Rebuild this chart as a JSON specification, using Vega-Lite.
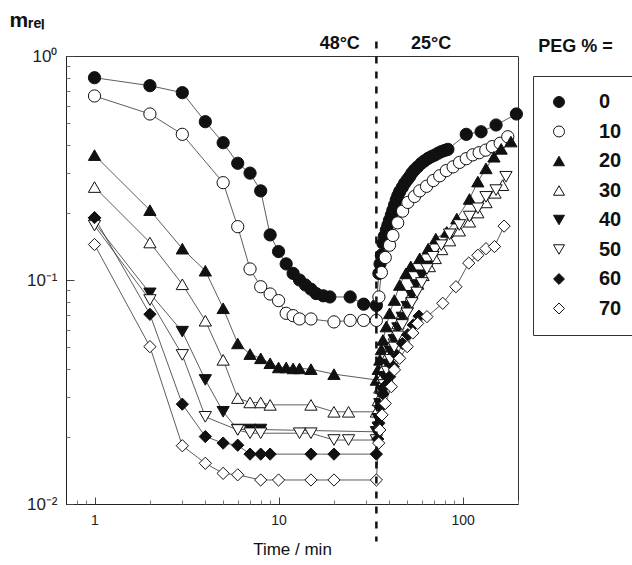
{
  "$schema": "https://vega.github.io/schema/vega-lite/v6.json",
  "autosize": {"type": "none"},
  "width": 452,
  "height": 448,
  "padding": {"left": 66, "top": 56, "right": 114, "bottom": 61},
  "background": "white",
  "config": {
    "font": "Liberation Sans",
    "view": {"stroke": "#333", "strokeWidth": 1},
    "legend": {
      "orient": "none",
      "legendX": 467,
      "legendY": 20,
      "strokeColor": "#333",
      "padding": 16,
      "labelFontSize": 20,
      "labelFontWeight": "bold",
      "labelColor": "#111",
      "labelOffset": 30,
      "rowPadding": 9.5,
      "symbolSize": 120,
      "symbolStrokeColor": "#111",
      "symbolStrokeWidth": 1
    }
  },
  "datasets": {
    "main": [
      {"peg":"0","t":1,"m":0.80},{"peg":"0","t":2,"m":0.737},{"peg":"0","t":3,"m":0.686},{"peg":"0","t":4,"m":0.509},{"peg":"0","t":5,"m":0.41},{"peg":"0","t":6,"m":0.332},{"peg":"0","t":7,"m":0.30},{"peg":"0","t":8,"m":0.25},{"peg":"0","t":9,"m":0.159},{"peg":"0","t":10,"m":0.134},{"peg":"0","t":11,"m":0.118},{"peg":"0","t":12,"m":0.107},{"peg":"0","t":13,"m":0.10},{"peg":"0","t":14,"m":0.095},{"peg":"0","t":15,"m":0.091},{"peg":"0","t":16,"m":0.087},{"peg":"0","t":17.5,"m":0.085},{"peg":"0","t":19,"m":0.084},{"peg":"0","t":24.5,"m":0.084},{"peg":"0","t":29,"m":0.078},{"peg":"0","t":34,"m":0.077},
      {"peg":"0","t":35.1,"m":0.107},{"peg":"0","t":35.6,"m":0.118},{"peg":"0","t":36.2,"m":0.129},{"peg":"0","t":36.9,"m":0.146},{"peg":"0","t":37.6,"m":0.157},{"peg":"0","t":38.5,"m":0.167},{"peg":"0","t":39.3,"m":0.176},{"peg":"0","t":40.1,"m":0.185},{"peg":"0","t":41,"m":0.195},{"peg":"0","t":41.8,"m":0.205},{"peg":"0","t":42.7,"m":0.216},{"peg":"0","t":43.6,"m":0.228},{"peg":"0","t":44.5,"m":0.238},{"peg":"0","t":45.5,"m":0.248},{"peg":"0","t":47,"m":0.259},{"peg":"0","t":48.4,"m":0.27},{"peg":"0","t":50,"m":0.28},{"peg":"0","t":51.5,"m":0.289},{"peg":"0","t":53,"m":0.30},{"peg":"0","t":54.8,"m":0.31},{"peg":"0","t":57,"m":0.32},{"peg":"0","t":59.7,"m":0.332},{"peg":"0","t":62,"m":0.34},{"peg":"0","t":64.9,"m":0.349},{"peg":"0","t":67.5,"m":0.355},{"peg":"0","t":70.5,"m":0.361},{"peg":"0","t":73.5,"m":0.368},{"peg":"0","t":76.6,"m":0.374},{"peg":"0","t":80,"m":0.379},{"peg":"0","t":83.2,"m":0.383},{"peg":"0","t":104.7,"m":0.447},{"peg":"0","t":126,"m":0.459},{"peg":"0","t":152,"m":0.492},{"peg":"0","t":196,"m":0.551},

      {"peg":"10","t":1,"m":0.663},{"peg":"10","t":2,"m":0.551},{"peg":"10","t":3,"m":0.447},{"peg":"10","t":5,"m":0.272},{"peg":"10","t":6,"m":0.173},{"peg":"10","t":7,"m":0.112},{"peg":"10","t":8,"m":0.0933},{"peg":"10","t":9,"m":0.0866},{"peg":"10","t":10,"m":0.0809},{"peg":"10","t":11,"m":0.071},{"peg":"10","t":12,"m":0.0693},{"peg":"10","t":13,"m":0.067},{"peg":"10","t":15,"m":0.067},{"peg":"10","t":20,"m":0.065},{"peg":"10","t":24.5,"m":0.066},{"peg":"10","t":29,"m":0.066},{"peg":"10","t":34,"m":0.066},
      {"peg":"10","t":35.1,"m":0.084},{"peg":"10","t":36.2,"m":0.108},{"peg":"10","t":38,"m":0.126},{"peg":"10","t":40.1,"m":0.143},{"peg":"10","t":41.8,"m":0.158},{"peg":"10","t":44.4,"m":0.18},{"peg":"10","t":47.2,"m":0.203},{"peg":"10","t":50.4,"m":0.222},{"peg":"10","t":54.8,"m":0.236},{"peg":"10","t":58.5,"m":0.25},{"peg":"10","t":63.7,"m":0.262},{"peg":"10","t":69.3,"m":0.278},{"peg":"10","t":75.1,"m":0.292},{"peg":"10","t":81.6,"m":0.308},{"peg":"10","t":88.8,"m":0.32},{"peg":"10","t":96.2,"m":0.335},{"peg":"10","t":104.7,"m":0.348},{"peg":"10","t":113.6,"m":0.362},{"peg":"10","t":123,"m":0.37},{"peg":"10","t":133.7,"m":0.38},{"peg":"10","t":145,"m":0.394},{"peg":"10","t":160,"m":0.408},{"peg":"10","t":176,"m":0.436},

      {"peg":"20","t":1,"m":0.361},{"peg":"20","t":2,"m":0.205},{"peg":"20","t":3,"m":0.138},{"peg":"20","t":4,"m":0.110},{"peg":"20","t":5,"m":0.0748},{"peg":"20","t":6,"m":0.0521},{"peg":"20","t":7,"m":0.0467},{"peg":"20","t":8,"m":0.0447},{"peg":"20","t":9,"m":0.0425},{"peg":"20","t":10,"m":0.0407},{"peg":"20","t":11,"m":0.0407},{"peg":"20","t":12,"m":0.0403},{"peg":"20","t":13,"m":0.0403},{"peg":"20","t":15,"m":0.040},{"peg":"20","t":20,"m":0.038},{"peg":"20","t":34,"m":0.0358},
      {"peg":"20","t":34.8,"m":0.040},{"peg":"20","t":35.5,"m":0.044},{"peg":"20","t":36.2,"m":0.049},{"peg":"20","t":36.9,"m":0.054},{"peg":"20","t":38.5,"m":0.062},{"peg":"20","t":40.1,"m":0.071},{"peg":"20","t":42.6,"m":0.0814},{"peg":"20","t":45.5,"m":0.095},{"peg":"20","t":49.2,"m":0.107},{"peg":"20","t":52.3,"m":0.115},{"peg":"20","t":58.5,"m":0.125},{"peg":"20","t":65,"m":0.138},{"peg":"20","t":71.5,"m":0.153},{"peg":"20","t":82,"m":0.164},{"peg":"20","t":93,"m":0.188},{"peg":"20","t":109,"m":0.23},{"peg":"20","t":121,"m":0.275},{"peg":"20","t":134,"m":0.315},{"peg":"20","t":148,"m":0.355},{"peg":"20","t":162,"m":0.385},{"peg":"20","t":183,"m":0.415},

      {"peg":"30","t":1,"m":0.26},{"peg":"30","t":2,"m":0.147},{"peg":"30","t":3,"m":0.0957},{"peg":"30","t":4,"m":0.0658},{"peg":"30","t":5,"m":0.044},{"peg":"30","t":6,"m":0.0297},{"peg":"30","t":7,"m":0.0284},{"peg":"30","t":8,"m":0.0284},{"peg":"30","t":9,"m":0.0277},{"peg":"30","t":15,"m":0.0277},{"peg":"30","t":20,"m":0.0258},{"peg":"30","t":24,"m":0.0258},{"peg":"30","t":34,"m":0.0258},
      {"peg":"30","t":34.8,"m":0.029},{"peg":"30","t":35.5,"m":0.033},{"peg":"30","t":36.5,"m":0.037},{"peg":"30","t":37.5,"m":0.041},{"peg":"30","t":39,"m":0.046},{"peg":"30","t":40.5,"m":0.051},{"peg":"30","t":42.5,"m":0.057},{"peg":"30","t":44.5,"m":0.064},{"peg":"30","t":47,"m":0.071},{"peg":"30","t":50,"m":0.079},{"peg":"30","t":53,"m":0.087},{"peg":"30","t":57,"m":0.096},{"peg":"30","t":61,"m":0.105},{"peg":"30","t":66,"m":0.115},{"peg":"30","t":71,"m":0.125},{"peg":"30","t":77,"m":0.137},{"peg":"30","t":85,"m":0.150},{"peg":"30","t":96,"m":0.166},{"peg":"30","t":109,"m":0.182},{"peg":"30","t":121,"m":0.20},{"peg":"30","t":134,"m":0.222},{"peg":"30","t":150,"m":0.245},{"peg":"30","t":165,"m":0.265},

      {"peg":"40","t":1,"m":0.18},{"peg":"40","t":2,"m":0.0872},{"peg":"40","t":3,"m":0.0588},{"peg":"40","t":4,"m":0.0358},{"peg":"40","t":5,"m":0.0258},{"peg":"40","t":6,"m":0.0215},{"peg":"40","t":7,"m":0.0215},{"peg":"40","t":8,"m":0.0215},{"peg":"40","t":34,"m":0.021},
      {"peg":"40","t":34.8,"m":0.024},{"peg":"40","t":35.5,"m":0.028},{"peg":"40","t":36.5,"m":0.032},{"peg":"40","t":37.5,"m":0.037},{"peg":"40","t":39,"m":0.042},{"peg":"40","t":40.5,"m":0.048},{"peg":"40","t":42.5,"m":0.054},{"peg":"40","t":44.5,"m":0.061},{"peg":"40","t":47,"m":0.068},{"peg":"40","t":50,"m":0.076},{"peg":"40","t":53,"m":0.085},{"peg":"40","t":56,"m":0.095},{"peg":"40","t":60,"m":0.105},{"peg":"40","t":64,"m":0.115},

      {"peg":"50","t":1,"m":0.175},{"peg":"50","t":2,"m":0.0814},{"peg":"50","t":3,"m":0.0463},{"peg":"50","t":4,"m":0.0245},{"peg":"50","t":6,"m":0.0214},{"peg":"50","t":7,"m":0.0207},{"peg":"50","t":8,"m":0.0207},{"peg":"50","t":13,"m":0.0207},{"peg":"50","t":15,"m":0.0207},{"peg":"50","t":20,"m":0.0193},{"peg":"50","t":24,"m":0.0193},{"peg":"50","t":34,"m":0.0193},
      {"peg":"50","t":34.8,"m":0.022},{"peg":"50","t":35.5,"m":0.026},{"peg":"50","t":36.5,"m":0.030},{"peg":"50","t":37.5,"m":0.034},{"peg":"50","t":39,"m":0.039},{"peg":"50","t":40.5,"m":0.044},{"peg":"50","t":42.5,"m":0.050},{"peg":"50","t":44.5,"m":0.056},{"peg":"50","t":47,"m":0.063},{"peg":"50","t":50,"m":0.071},{"peg":"50","t":53,"m":0.079},{"peg":"50","t":56.5,"m":0.088},{"peg":"50","t":60,"m":0.097},{"peg":"50","t":64,"m":0.112},{"peg":"50","t":69,"m":0.127},{"peg":"50","t":76.6,"m":0.143},{"peg":"50","t":85,"m":0.160},{"peg":"50","t":96,"m":0.176},{"peg":"50","t":109,"m":0.192},{"peg":"50","t":121,"m":0.209},{"peg":"50","t":134,"m":0.235},{"peg":"50","t":152,"m":0.252},{"peg":"50","t":172,"m":0.289},

      {"peg":"60","t":1,"m":0.19},{"peg":"60","t":2,"m":0.0703},{"peg":"60","t":3,"m":0.0279},{"peg":"60","t":4,"m":0.020},{"peg":"60","t":5,"m":0.0187},{"peg":"60","t":6,"m":0.0183},{"peg":"60","t":7,"m":0.0167},{"peg":"60","t":8,"m":0.0167},{"peg":"60","t":9,"m":0.0167},{"peg":"60","t":15,"m":0.0167},{"peg":"60","t":20,"m":0.0167},{"peg":"60","t":34,"m":0.0167},
      {"peg":"60","t":34.6,"m":0.0195},{"peg":"60","t":35,"m":0.0229},{"peg":"60","t":35.8,"m":0.027},{"peg":"60","t":36.9,"m":0.031},{"peg":"60","t":38.5,"m":0.034},{"peg":"60","t":40.1,"m":0.037},{"peg":"60","t":42,"m":0.041},{"peg":"60","t":44,"m":0.046},{"peg":"60","t":47.2,"m":0.052},{"peg":"60","t":50.4,"m":0.057},{"peg":"60","t":54,"m":0.063},{"peg":"60","t":58,"m":0.069},

      {"peg":"70","t":1,"m":0.144},{"peg":"70","t":2,"m":0.0504},{"peg":"70","t":3,"m":0.0182},{"peg":"70","t":4,"m":0.0152},{"peg":"70","t":5,"m":0.0137},{"peg":"70","t":6,"m":0.0135},{"peg":"70","t":8,"m":0.0128},{"peg":"70","t":10,"m":0.0128},{"peg":"70","t":15,"m":0.0128},{"peg":"70","t":20,"m":0.0128},{"peg":"70","t":34,"m":0.0128},
      {"peg":"70","t":35,"m":0.0187},{"peg":"70","t":35.5,"m":0.0214},{"peg":"70","t":36.5,"m":0.025},{"peg":"70","t":38,"m":0.0281},{"peg":"70","t":41,"m":0.0334},{"peg":"70","t":42.6,"m":0.0397},{"peg":"70","t":45.5,"m":0.0447},{"peg":"70","t":50,"m":0.0504},{"peg":"70","t":53.6,"m":0.058},{"peg":"70","t":57,"m":0.064},{"peg":"70","t":64,"m":0.0686},{"peg":"70","t":78,"m":0.0787},{"peg":"70","t":92,"m":0.0933},{"peg":"70","t":108,"m":0.119},{"peg":"70","t":121,"m":0.129},{"peg":"70","t":134,"m":0.138},{"peg":"70","t":149,"m":0.141},{"peg":"70","t":168,"m":0.174}
    ],
    "notes": [
      {"label": "48°C", "t": 21.5, "m": 1.137},
      {"label": "25°C", "t": 67.4, "m": 1.137},
      {"label": "PEG % =", "t": 411, "m": 1.097}
    ]
  },
  "resolve": {"axis": {"x": "independent", "y": "independent"}},
  "layer": [
    {
      "data": {"name": "main"},
      "mark": {"type": "line", "color": "#333", "strokeWidth": 0.8},
      "encoding": {
        "x": {
          "field": "t", "type": "quantitative",
          "scale": {"type": "log", "domain": [0.7, 200], "nice": false},
          "axis": {
            "orient": "bottom",
            "values": [1, 10, 100],
            "format": "~g",
            "grid": false,
            "domainColor": "#222",
            "tickColor": "#444",
            "tickSize": -7,
            "labelPadding": 16,
            "labelFontSize": 14,
            "labelColor": "#222",
            "title": "Time /  min",
            "titleFontSize": 17,
            "titleFontWeight": "normal",
            "titleColor": "#111",
            "titleY": 50,
            "titleBaseline": "alphabetic"
          }
        },
        "y": {
          "field": "m", "type": "quantitative",
          "scale": {"type": "log", "domain": [0.01, 1], "nice": false},
          "axis": {
            "orient": "left",
            "values": [0.01, 0.1, 1],
            "labelExpr": "datum.value >= 0.5 ? '10⁰' : (datum.value >= 0.05 ? '10⁻¹' : '10⁻²')",
            "grid": false,
            "domainColor": "#222",
            "tickColor": "#444",
            "tickSize": -8,
            "labelPadding": 17,
            "labelFontSize": 17,
            "labelColor": "#222",
            "title": "mᵣₑₗ",
            "titleAngle": 0,
            "titleAlign": "left",
            "titleBaseline": "alphabetic",
            "titleX": -57,
            "titleY": -30,
            "titleFontSize": 21,
            "titleFontWeight": "bold",
            "titleColor": "#111"
          }
        },
        "detail": {"field": "peg", "type": "nominal"}
      }
    },
    {
      "data": {"name": "main"},
      "mark": {"type": "point", "filled": true, "strokeWidth": 1, "size": 150, "opacity": 1},
      "encoding": {
        "x": {"field": "t", "type": "quantitative", "axis": null},
        "y": {"field": "m", "type": "quantitative", "axis": null},
        "shape": {
          "field": "peg", "type": "nominal",
          "scale": {"domain": ["0","10","20","30","40","50","60","70"], "range": ["circle","circle","triangle-up","triangle-up","triangle-down","triangle-down","diamond","diamond"]},
          "legend": {"title": null}
        },
        "fill": {
          "field": "peg", "type": "nominal",
          "scale": {"domain": ["0","10","20","30","40","50","60","70"], "range": ["#111","white","#111","white","#111","white","#111","white"]},
          "legend": {"title": null}
        },
        "stroke": {
          "field": "peg", "type": "nominal",
          "scale": {"domain": ["0","10","20","30","40","50","60","70"], "range": ["#111","#111","#111","#111","#111","#111","#111","#111"]},
          "legend": {"title": null}
        }
      }
    },
    {
      "data": {"values": [{"t": 34}]},
      "mark": {"type": "rule", "strokeDash": [7, 8], "strokeWidth": 2.5, "color": "#111"},
      "encoding": {
        "x": {
          "field": "t", "type": "quantitative",
          "axis": {
            "orient": "bottom",
            "values": [0.8, 0.9, 2, 3, 4, 5, 6, 7, 8, 9, 20, 30, 40, 50, 60, 70, 80, 90, 200],
            "labels": false, "domain": false, "grid": false, "title": null,
            "tickSize": -4, "tickColor": "#777"
          }
        },
        "y": {
          "datum": 1.16, "type": "quantitative",
          "axis": {
            "orient": "left",
            "values": [0.02, 0.03, 0.04, 0.05, 0.06, 0.07, 0.08, 0.09, 0.2, 0.3, 0.4, 0.5, 0.6, 0.7, 0.8, 0.9],
            "labels": false, "domain": false, "grid": false, "title": null,
            "tickSize": -4, "tickColor": "#777"
          }
        },
        "y2": {"datum": 0.0068}
      }
    },
    {
      "data": {"name": "notes"},
      "mark": {"type": "text", "fontSize": 18, "fontWeight": "bold", "color": "#111", "baseline": "middle", "align": "center"},
      "encoding": {
        "x": {"field": "t", "type": "quantitative", "axis": null},
        "y": {"field": "m", "type": "quantitative", "axis": null},
        "text": {"field": "label"}
      }
    }
  ]
}
